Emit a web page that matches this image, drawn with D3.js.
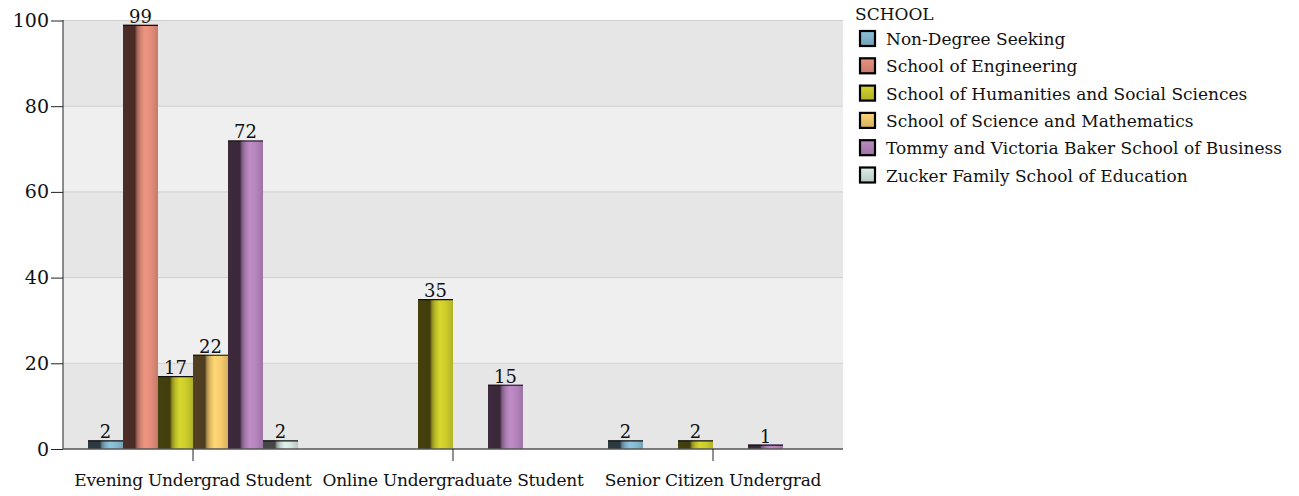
<!DOCTYPE html>
<html>
<head>
<meta charset="utf-8">
<script src="https://cdn.jsdelivr.net/npm/d3@7"></script>
<style>
  html, body { margin: 0; padding: 0; background: #ffffff; }
  svg { display: block; }
  text { font-family: "DejaVu Serif", serif; fill: #111; }
</style>
</head>
<body>
<svg id="chart" width="1299" height="496"></svg>
<script>
// ---- data ----
const categories = ["Evening Undergrad Student", "Online Undergraduate Student", "Senior Citizen Undergrad"];
const seriesNames = [
  "Non-Degree Seeking",
  "School of Engineering",
  "School of Humanities and Social Sciences",
  "School of Science and Mathematics",
  "Tommy and Victoria Baker School of Business",
  "Zucker Family School of Education"
];
// values per series, aligned with categories (null = no bar)
const nonDegree   = [2, null, 2];
const engineering = [99, null, null];
const humanities  = [17, 35, 2];
const science     = [22, null, null];
const business    = [72, 15, 1];
const zucker      = [2, null, null];
const yTicks = [0, 20, 40, 60, 80, 100];
const legendTitle = "SCHOOL";

const seriesValues = [nonDegree, engineering, humanities, science, business, zucker];
const barColors = ["#86bad2", "#e38d7b", "#cccc2c", "#f7cc6e", "#b585bd", "#d3e6e2"];

// ---- layout ----
const svg = d3.select("#chart");
const margin = { left: 63, top: 20.5, right: 843, bottom: 449 };

const x0 = d3.scaleBand().domain(categories).range([margin.left, margin.right]).paddingInner(0).paddingOuter(0);
const x1 = d3.scaleBand().domain(seriesNames).range([25, x0.bandwidth() - 25]).padding(0);
const y = d3.scaleLinear().domain([0, 100]).range([margin.bottom, margin.top]);

const defs = svg.append("defs");
barColors.forEach((c, i) => {
  const base = d3.rgb(c);
  const g = defs.append("linearGradient").attr("id", "bar" + i)
    .attr("x1", "0%").attr("x2", "100%").attr("y1", "0%").attr("y2", "0%");
  const dark = d3.rgb(base.r * 0.32, base.g * 0.3, base.b * 0.3);
  const stops = [
    [0, dark.brighter(0.15)], [0.34, dark], [0.4, base.darker(1.0)], [0.5, base.darker(0.25)],
    [0.62, base.brighter(0.15)], [0.8, base], [1, base.darker(0.4)]
  ];
  stops.forEach(([o, col]) => g.append("stop").attr("offset", o).attr("stop-color", col));
  const lg = defs.append("linearGradient").attr("id", "leg" + i)
    .attr("x1", "0%").attr("x2", "0%").attr("y1", "0%").attr("y2", "100%");
  lg.append("stop").attr("offset", 0).attr("stop-color", base.brighter(0.1));
  lg.append("stop").attr("offset", 1).attr("stop-color", base.darker(0.4));
});

// background bands
const bandVals = d3.pairs(yTicks);
svg.append("g").selectAll("rect").data(bandVals).join("rect")
  .attr("x", margin.left).attr("width", margin.right - margin.left)
  .attr("y", d => y(d[1])).attr("height", d => y(d[0]) - y(d[1]))
  .attr("fill", (d, i) => i % 2 === 0 ? "#e6e6e6" : "#efefef");

// gridlines
svg.append("g").selectAll("line").data(yTicks.slice(1)).join("line")
  .attr("x1", margin.left).attr("x2", margin.right)
  .attr("y1", d => y(d)).attr("y2", d => y(d))
  .attr("stroke", "#cfcfcf").attr("stroke-width", 1);

// bars
const barData = [];
categories.forEach((cat, ci) => {
  seriesNames.forEach((s, si) => {
    const v = seriesValues[si][ci];
    if (v != null) barData.push({ cat, s, si, v });
  });
});
const bars = svg.append("g");
bars.selectAll("rect").data(barData).join("rect")
  .attr("x", d => x0(d.cat) + x1(d.s))
  .attr("width", x1.bandwidth())
  .attr("y", d => y(d.v))
  .attr("height", d => y(0) - y(d.v))
  .attr("fill", d => `url(#bar${d.si})`);
bars.selectAll("line").data(barData).join("line")
  .attr("x1", d => x0(d.cat) + x1(d.s)).attr("x2", d => x0(d.cat) + x1(d.s) + x1.bandwidth())
  .attr("y1", d => y(d.v) + 0.5).attr("y2", d => y(d.v) + 0.5)
  .attr("stroke", "#111").attr("stroke-width", 1.2);
bars.selectAll("text").data(barData).join("text")
  .attr("x", d => x0(d.cat) + x1(d.s) + x1.bandwidth() / 2)
  .attr("y", d => y(d.v) - 2)
  .attr("text-anchor", "middle")
  .attr("font-size", 18)
  .text(d => d.v);

// axes
const yAxis = svg.append("g").attr("transform", `translate(${margin.left},0)`)
  .call(d3.axisLeft(y).tickValues(yTicks).tickSize(12).tickPadding(2));
yAxis.select(".domain").attr("stroke", "#222").attr("d", `M0,${margin.top - 0.5}V${margin.bottom}`);
yAxis.selectAll(".tick line").attr("stroke", "#222");
yAxis.selectAll(".tick text").attr("font-size", 19).attr("font-family", "DejaVu Serif").attr("fill", "#111");

const xAxis = svg.append("g").attr("transform", `translate(0,${margin.bottom})`)
  .call(d3.axisBottom(x0).tickSize(12).tickPadding(13));
xAxis.select(".domain").attr("stroke", "#555").attr("stroke-width", 1.3).attr("d", `M${margin.left},0H${margin.right}`);
xAxis.selectAll(".tick line").attr("stroke", "#222");
xAxis.selectAll(".tick text").attr("font-size", 17).attr("letter-spacing", -0.25)
  .attr("font-family", "DejaVu Serif").attr("fill", "#111");

// legend
const legend = svg.append("g");
legend.append("text").attr("x", 855).attr("y", 20).attr("font-size", 17).text(legendTitle);
const rows = legend.selectAll("g.row").data(seriesNames).join("g").attr("class", "row")
  .attr("transform", (d, i) => `translate(860, ${39 + i * 27.3})`);
rows.append("rect").attr("x", 0).attr("y", -8).attr("width", 15).attr("height", 15)
  .attr("fill", (d, i) => `url(#leg${i})`).attr("stroke", "#000").attr("stroke-width", 2.2);
rows.append("text").attr("x", 26).attr("y", 6).attr("font-size", 17).text(d => d);
</script>
</body>
</html>
